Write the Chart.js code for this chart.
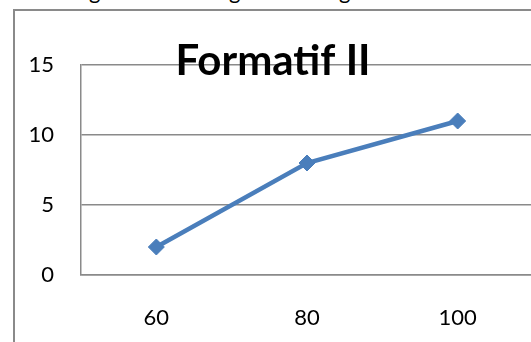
<!DOCTYPE html>
<html>
<head>
<meta charset="utf-8">
<title>Formatif II</title>
<script src="https://cdn.jsdelivr.net/npm/chart.js@4"></script>
<style>
  html, body { margin: 0; padding: 0; background: #ffffff; overflow: hidden; }
  #wrap { position: relative; width: 531px; height: 342px; overflow: hidden; }
  #frame { position: absolute; left: 13px; top: 9px; width: 600px; height: 400px;
           border: 2px solid #8a8a8a; box-sizing: border-box; }
  #above { position: absolute; left: 0; top: -20px; height: 22px; width: 531px;
           font: 22px Lato, sans-serif; line-height: 22px; color: #000; }
  #above span { position: absolute; top: 0; }
  canvas { position: absolute; left: 0; top: 0; }
</style>
</head>
<body>
<div id="wrap">
  <div id="above"><span style="left:89px">g</span><span style="left:229px">g</span><span style="left:339px">g</span></div>
  <div id="frame"></div>
  <canvas id="chart" width="542" height="342" style="width:542px;height:342px"></canvas>
</div>
<script>
// Scores per category
const categories = ['60', '80', '100'];
const formatifValues = [2, 8, 11];
const yTickValues = [0, 5, 10, 15];
const chartTitle = 'Formatif II';

const lineBlue = '#4a7ebb';
const gridGray = '#8a8a8a';

// Title drawn over the plot, crossing the top gridline
const titlePlugin = {
  id: 'overTitle',
  afterDraw(chart) {
    const ctx = chart.ctx;
    ctx.save();
    ctx.font = 'bold 42px Lato, sans-serif';
    ctx.fillStyle = '#000000';
    ctx.textAlign = 'center';
    ctx.textBaseline = 'alphabetic';
    ctx.fillText(chartTitle, 273, 75);
    ctx.restore();
  }
};

new Chart(document.getElementById('chart'), {
  type: 'line',
  data: {
    labels: categories,
    datasets: [{
      label: chartTitle,
      data: formatifValues,
      borderColor: lineBlue,
      backgroundColor: lineBlue,
      borderWidth: 4.5,
      pointStyle: 'rectRot',
      pointRadius: 8,
      pointBorderWidth: 1,
      pointBorderColor: lineBlue,
      pointBackgroundColor: lineBlue,
      tension: 0,
      fill: false
    }]
  },
  options: {
    responsive: false,
    animation: false,
    devicePixelRatio: 1,
    layout: { padding: { top: 65, left: 0, right: 0, bottom: 0 } },
    plugins: {
      legend: { display: false },
      title: { display: false },
      tooltip: { enabled: false }
    },
    scales: {
      x: {
        type: 'category',
        offset: true,
        grid: { display: false, drawTicks: false },
        border: { display: true, color: gridGray, width: 1.5 },
        ticks: {
          color: '#000000',
          font: { family: 'Lato', size: 22 },
          padding: 30,
          maxRotation: 0
        },
        afterFit(scale) { scale.height = 67; }
      },
      y: {
        min: 0,
        max: 15,
        afterBuildTicks(scale) { scale.ticks = yTickValues.map(v => ({ value: v })); },
        grid: { color: gridGray, lineWidth: 1.5, drawTicks: false },
        border: { display: true, color: gridGray, width: 1.5 },
        ticks: {
          color: '#000000',
          font: { family: 'Lato', size: 22 },
          padding: 27
        },
        afterFit(scale) { scale.width = 81; }
      }
    }
  },
  plugins: [titlePlugin]
});
</script>
</body>
</html>
